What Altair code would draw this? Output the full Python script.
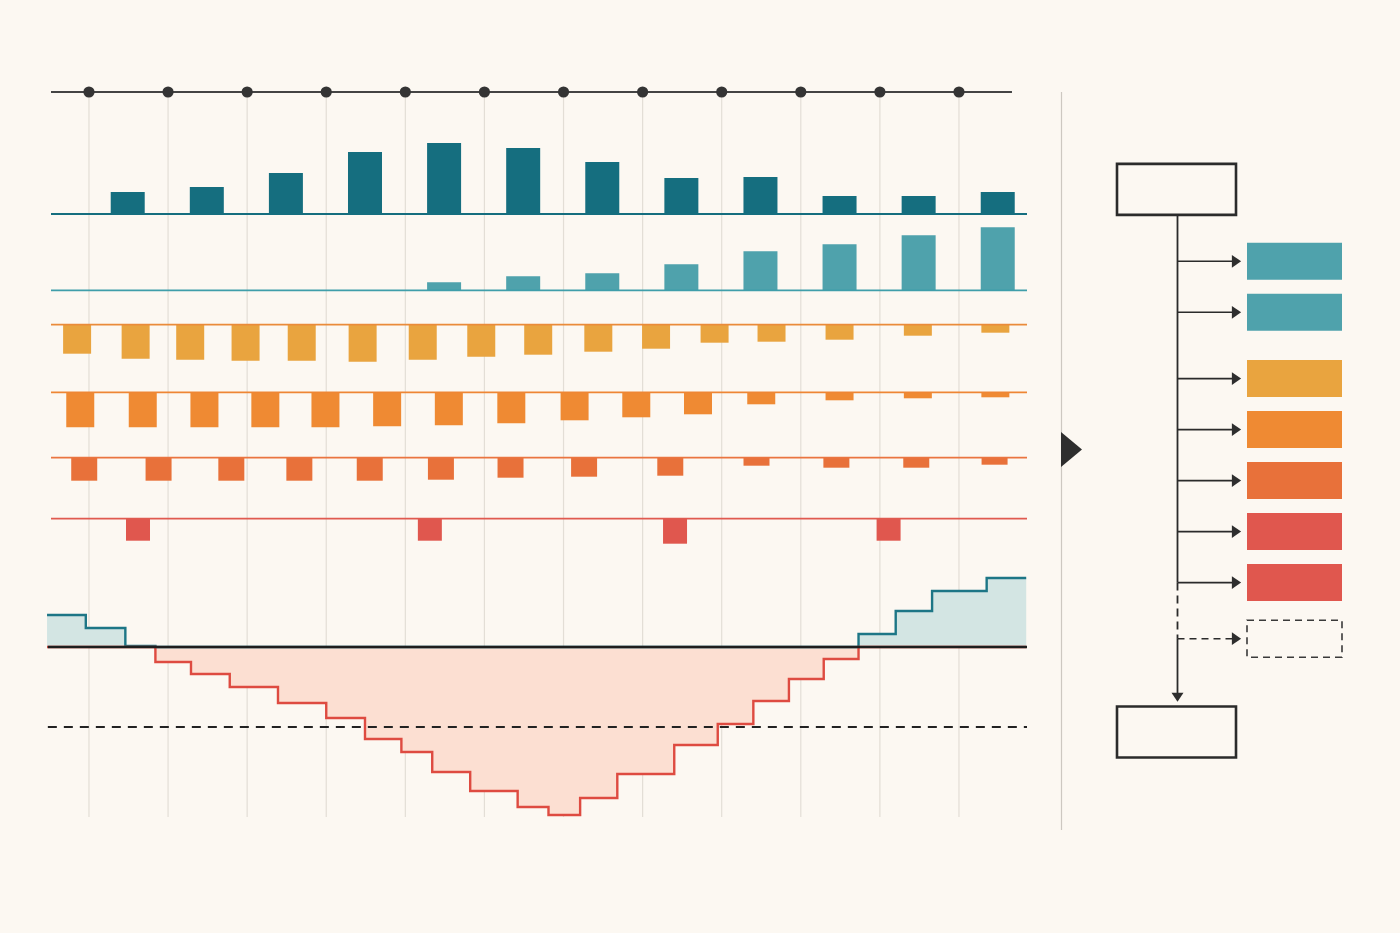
import altair as alt
import pandas as pd

# ---------------------------------------------------------------- palette
BG = "#fcf8f2"
INK = "#2b2b2b"
GRID = "#e3ded6"
TEAL_DARK = "#156e7f"
TEAL_LIGHT = "#4fa2ac"
AMBER = "#e9a43f"
ORANGE = "#ef8a33"
BURNT = "#e8713a"
RED = "#e0574e"
STEP_POS = "#1d7686"
STEP_NEG = "#de4b41"
FILL_POS = "#d3e5e3"
FILL_NEG = "#fcdfd2"

# ---------------------------------------------------------------- data
MONTHS = list(range(12))

# monthly totals (dark teal, upward)
BASE_VALUES = [22, 27, 41, 62, 71, 66, 52, 36, 37, 18, 18, 22]

# growth bars (light teal, upward), starting in month 4
GROWTH_MONTHS = [4, 5, 6, 7, 8, 9, 10, 11]
GROWTH_VALUES = [8, 14, 17, 26, 39, 46, 55, 63]

# outflow series (downward); t is time in months
AMBER_T = [-0.15, 0.59, 1.28, 1.98, 2.69, 3.46, 4.22, 4.96, 5.68, 6.44,
           7.17, 7.91, 8.63, 9.49, 10.48, 11.46]
AMBER_V = [29, 34, 35, 36, 36, 37, 35, 32, 30, 27, 24, 18, 17, 15, 11, 8]

ORANGE_T = [-0.11, 0.68, 1.46, 2.23, 2.99, 3.77, 4.55, 5.34, 6.14, 6.92,
            7.70, 8.50, 9.49, 10.48, 11.46]
ORANGE_V = [35, 35, 35, 35, 35, 34, 33, 31, 28, 25, 22, 12, 8, 6, 5]

BURNT_T = [-0.06, 0.88, 1.80, 2.66, 3.55, 4.45, 5.33, 6.26, 7.35, 8.44,
           9.45, 10.46, 11.45]
BURNT_V = [23, 23, 23, 23, 23, 22, 20, 19, 18, 8, 10, 10, 7]

ALERT_T = [0.62, 4.31, 7.41, 10.11]
ALERT_V = [22, 22, 25, 22]

# cumulative balance (step series) and its warning threshold
STEP_T = [-0.53, -0.04, 0.46, 0.84, 1.29, 1.78, 2.39, 3.00, 3.49, 3.95,
          4.34, 4.82, 5.42, 5.81, 6.21, 6.68, 7.40, 7.95, 8.40, 8.85,
          9.29, 9.73, 10.20, 10.66, 11.35, 11.85]
STEP_V = [32, 19, 1, -15, -27, -40, -56, -71, -92, -105,
          -125, -144, -160, -168, -151, -127, -98, -77, -54, -32,
          -12, 13, 36, 56, 69, 69]
THRESHOLD = -80

# flow diagram items
FLOW_SERIES = ["Core", "Growth", "Amber", "Orange", "Burnt", "Alert A", "Alert B", "Pending"]
FLOW_COLORS = [TEAL_LIGHT, TEAL_LIGHT, AMBER, ORANGE, BURNT, RED, RED, "none"]
FLOW_GROUP = [0, 0, 1, 1, 1, 1, 1, 2]

# ---------------------------------------------------------------- layout
X_DOMAIN = [-0.48, 11.86]
X_RANGE = [51, 1027]
PANEL_TOP = 92
GRID_BOTTOM = 817
SEP_X = 1061.5
SEP_BOTTOM = 830


def xscale():
    return alt.Scale(domain=X_DOMAIN, range=X_RANGE, nice=False, zero=False, padding=0)


def row_scale(base_px, half=60):
    return alt.Scale(domain=[-half, half], range=[base_px + half, base_px - half],
                     nice=False, zero=False, padding=0)


ONE = pd.DataFrame({"k": [0]})
layers = []

# vertical month grid
layers.append(
    alt.Chart(pd.DataFrame({"m": MONTHS})).mark_rule(color=GRID, strokeWidth=1.2).encode(
        x=alt.X("m:Q", scale=xscale(), axis=None),
        y=alt.value(PANEL_TOP), y2=alt.value(GRID_BOTTOM),
    )
)


def bar_row(t, v, base_px, bar_color, line_color, width, down, offset=0.0):
    df = pd.DataFrame({"t": [a + offset for a in t], "v": [-b if down else b for b in v]})
    ys = row_scale(base_px)
    bars = alt.Chart(df).mark_bar(size=width, color=bar_color).encode(
        x=alt.X("t:Q", scale=xscale(), axis=None),
        y=alt.Y("v:Q", scale=ys, axis=None),
        y2=alt.datum(0),
    )
    base = alt.Chart(pd.DataFrame({"x0": [X_DOMAIN[0]], "x1": [X_DOMAIN[1]], "y": [0]})).mark_rule(
        color=line_color, strokeWidth=1.8).encode(
        x=alt.X("x0:Q", scale=xscale(), axis=None), x2="x1:Q",
        y=alt.Y("y:Q", scale=ys, axis=None),
    )
    return [bars, base]


# bars for a month are centred mid-month
layers += bar_row(MONTHS, BASE_VALUES, 214, TEAL_DARK, TEAL_DARK, 34, False, offset=0.49)
layers += bar_row(GROWTH_MONTHS, GROWTH_VALUES, 290.3, TEAL_LIGHT, "#3f9eaa", 34, False, offset=0.49)
layers += bar_row(AMBER_T, AMBER_V, 324.7, AMBER, "#ea8b3a", 28, True)
layers += bar_row(ORANGE_T, ORANGE_V, 392.3, ORANGE, "#ee8634", 28, True)
layers += bar_row(BURNT_T, BURNT_V, 457.7, BURNT, "#ea7540", 26, True)
layers += bar_row(ALERT_T, ALERT_V, 518.7, RED, "#e05a50", 24, True)

# cumulative step chart
step_df = pd.DataFrame({"t": STEP_T, "v": STEP_V})
step_df["pos"] = step_df["v"].clip(lower=0)
step_df["neg"] = step_df["v"].clip(upper=0)
step_y = alt.Scale(domain=[-180, 80], range=[827, 567], nice=False, zero=False, padding=0)

for field, fill in (("pos", FILL_POS), ("neg", FILL_NEG)):
    layers.append(
        alt.Chart(step_df).mark_area(interpolate="step-after", color=fill, opacity=1).encode(
            x=alt.X("t:Q", scale=xscale(), axis=None),
            y=alt.Y(f"{field}:Q", scale=step_y, axis=None),
            y2=alt.datum(0),
        )
    )
for field, stroke in (("pos", STEP_POS), ("neg", STEP_NEG)):
    layers.append(
        alt.Chart(step_df).mark_line(interpolate="step-after", color=stroke, strokeWidth=2.4).encode(
            x=alt.X("t:Q", scale=xscale(), axis=None),
            y=alt.Y(f"{field}:Q", scale=step_y, axis=None),
        )
    )

ref_df = pd.DataFrame({"x0": [-0.52], "x1": [X_DOMAIN[1]], "zero": [0], "thr": [THRESHOLD]})
layers.append(
    alt.Chart(ref_df).mark_rule(color="#1e1e1e", strokeWidth=2.6).encode(
        x=alt.X("x0:Q", scale=xscale(), axis=None), x2="x1:Q",
        y=alt.Y("zero:Q", scale=step_y, axis=None),
    )
)
layers.append(
    alt.Chart(ref_df).mark_rule(color="#222222", strokeWidth=1.8, strokeDash=[9, 7]).encode(
        x=alt.X("x0:Q", scale=xscale(), axis=None), x2="x1:Q",
        y=alt.Y("thr:Q", scale=step_y, axis=None),
    )
)

# month timeline with markers
layers.append(
    alt.Chart(pd.DataFrame({"x0": [X_DOMAIN[0]], "x1": [11.67]})).mark_rule(
        color="#444444", strokeWidth=2).encode(
        x=alt.X("x0:Q", scale=xscale(), axis=None), x2="x1:Q",
        y=alt.value(PANEL_TOP),
    )
)
layers.append(
    alt.Chart(pd.DataFrame({"m": MONTHS})).mark_circle(size=125, color="#343434", opacity=1).encode(
        x=alt.X("m:Q", scale=xscale(), axis=None),
        y=alt.value(PANEL_TOP),
    )
)

# separator and pointer
layers.append(
    alt.Chart(ONE).mark_rule(color="#cdc8c1", strokeWidth=1.2).encode(
        x=alt.value(SEP_X), y=alt.value(PANEL_TOP), y2=alt.value(SEP_BOTTOM),
    )
)
layers.append(
    alt.Chart(ONE).mark_point(shape="M -0.6 -1 L 0.6 0 L -0.6 1 Z", size=1225, filled=True,
                              color="#2e2e2e", opacity=1, strokeWidth=0).encode(
        x=alt.value(SEP_X + 10), y=alt.value(449.5),
    )
)

# ---------------------------------------------------------------- flow diagram
GROUP_GAP = [0.0, 0.3, 0.4]
flow = pd.DataFrame({"series": FLOW_SERIES, "color": FLOW_COLORS, "group": FLOW_GROUP})
flow["slot"] = [i + GROUP_GAP[g] for i, g in enumerate(FLOW_GROUP)]
flow["top"] = flow["slot"] - 0.363
flow["bot"] = flow["slot"] + 0.363
flow["dashed"] = flow["series"] == "Pending"

fy = alt.Scale(domain=[-2, 10], range=[159.3, 771.3], nice=False, zero=False, padding=0)
SPINE_X = 1177.5
BOX_X = (1117, 1236)
ITEM_X = (1247, 1342)
ARROW_END = 1233
HEAD = "M -0.73 -1 L 0.73 0 L -0.73 1 Z"
HEAD_DOWN = "M -1 -0.75 L 1 -0.75 L 0 0.75 Z"

first_slot = flow["slot"].iloc[0]
last_solid = flow.loc[~flow["dashed"], "slot"].iloc[-1]
pending_slot = flow.loc[flow["dashed"], "slot"].iloc[0]
boxes = pd.DataFrame({"c": [first_slot - 1.41, pending_slot + 1.83]})
boxes["top"] = boxes["c"] - 0.5
boxes["bot"] = boxes["c"] + 0.5
down_head = pending_slot + 1.15

layers.append(
    alt.Chart(boxes).mark_rect(fillOpacity=0, stroke=INK, strokeWidth=2.6).encode(
        x=alt.value(BOX_X[0]), x2=alt.value(BOX_X[1]),
        y=alt.Y("top:Q", scale=fy, axis=None), y2="bot:Q",
    )
)

spine = pd.DataFrame({
    "y0": [boxes["bot"].iloc[0], last_solid, pending_slot],
    "y1": [last_solid, pending_slot, down_head],
    "dashed": [False, True, False],
})
layers.append(
    alt.Chart(spine[~spine["dashed"]]).mark_rule(color=INK, strokeWidth=1.8).encode(
        x=alt.value(SPINE_X), y=alt.Y("y0:Q", scale=fy, axis=None), y2="y1:Q",
    )
)
layers.append(
    alt.Chart(spine[spine["dashed"]]).mark_rule(color=INK, strokeWidth=1.8, strokeDash=[8, 5]).encode(
        x=alt.value(SPINE_X), y=alt.Y("y0:Q", scale=fy, axis=None), y2="y1:Q",
    )
)
layers.append(
    alt.Chart(pd.DataFrame({"s": [down_head]})).mark_point(
        shape=HEAD_DOWN, size=144, filled=True, color="#2e2e2e", opacity=1, strokeWidth=0).encode(
        x=alt.value(SPINE_X), y=alt.Y("s:Q", scale=fy, axis=None),
    )
)

layers.append(
    alt.Chart(flow[~flow["dashed"]]).mark_rule(color=INK, strokeWidth=1.6).encode(
        x=alt.value(SPINE_X), x2=alt.value(ARROW_END),
        y=alt.Y("slot:Q", scale=fy, axis=None),
    )
)
layers.append(
    alt.Chart(flow[flow["dashed"]]).mark_rule(color=INK, strokeWidth=1.6, strokeDash=[7, 5]).encode(
        x=alt.value(SPINE_X), x2=alt.value(ARROW_END),
        y=alt.Y("slot:Q", scale=fy, axis=None),
    )
)
layers.append(
    alt.Chart(flow).mark_point(shape=HEAD, size=161, filled=True, color="#2e2e2e",
                               opacity=1, strokeWidth=0).encode(
        x=alt.value(ARROW_END + 3.5),
        y=alt.Y("slot:Q", scale=fy, axis=None),
    )
)
layers.append(
    alt.Chart(flow[~flow["dashed"]]).mark_rect().encode(
        x=alt.value(ITEM_X[0]), x2=alt.value(ITEM_X[1]),
        y=alt.Y("top:Q", scale=fy, axis=None), y2="bot:Q",
        color=alt.Color("color:N", scale=None),
    )
)
layers.append(
    alt.Chart(flow[flow["dashed"]]).mark_rect(fillOpacity=0, stroke="#3a3a3a", strokeWidth=1.6,
                                             strokeDash=[7, 5]).encode(
        x=alt.value(ITEM_X[0]), x2=alt.value(ITEM_X[1]),
        y=alt.Y("top:Q", scale=fy, axis=None), y2="bot:Q",
    )
)

chart = (
    alt.layer(*layers)
    .resolve_scale(x="independent", y="independent")
    .properties(width=1400, height=933, padding=0, autosize=alt.AutoSizeParams(type="none"),
                background=BG)
    .configure_view(stroke=None)
)

chart.save("out.html", embed_options={"renderer": "svg", "actions": False})
